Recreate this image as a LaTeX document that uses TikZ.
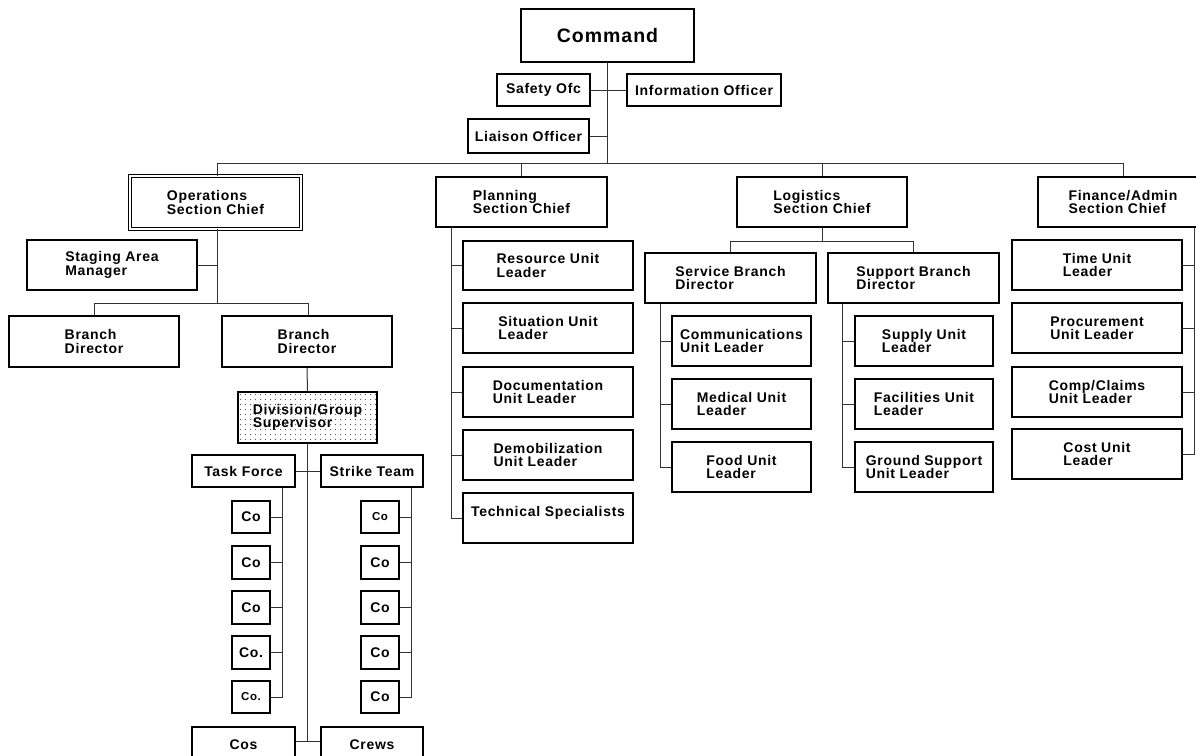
\documentclass[tikz,border=0pt]{standalone}
\usepackage{fontspec}
\setmainfont{Liberation Sans}[LetterSpace=5]
\usetikzlibrary{calc}

\tikzset{
  box/.style={draw=black, line width=1.2pt, fill=white, inner sep=0pt,
    align=left, font=\fontsize{14}{13.5}\selectfont\bfseries},
  bigbox/.style={box, line width=1.7pt, font=\fontsize{19.5}{22}\selectfont\bfseries},
  dblbox/.style={box, line width=0.9pt, double=white, double distance=1.6pt},
  smalltext/.style={font=\fontsize{11.5}{12}\selectfont\bfseries},
  dotted fill/.style={path picture={
    \foreach \i in {0,...,28}{\foreach \j in {0,...,10}{
      \fill[black!65] ($(path picture bounding box.north west)+(\i*5+2.5,\j*5+2.5)$) circle (0.55pt);}}}},
  conn/.style={draw=black!80, line width=1pt}
}

% \orgbox[options]{name}{x1}{y1}{x2}{y2}{text}
\newcommand\orgbox[7][]{%
  \node[box,#1,minimum width={(#5-#3)*1pt},minimum height={(#6-#4)*1pt}]
    (#2) at ({(#3+#5)/2},{(#4+#6)/2}) {#7};}

\begin{document}
\begin{tikzpicture}[x=1pt,y=-1pt]
\useasboundingbox (0,0) rectangle (1196,755);
\fill[white] (0,0) rectangle (1196,755);
\clip (0,0) rectangle (1196,755);

% ---- command staff ----
\orgbox[bigbox]{cmd}{521}{9}{694}{62}{Command}
\orgbox{safety}{497}{74}{590}{106}{Safety Ofc}
\orgbox{info}{627}{74}{781}{106}{Information Officer}
\orgbox{liaison}{468}{119}{589}{153}{Liaison Officer}

% ---- section chiefs ----
\orgbox[dblbox]{ops}{130}{176}{301}{229}{Operations\\Section Chief}
\orgbox{plan}{436}{177}{607}{227}{Planning\\Section Chief}
\orgbox{log}{737}{177}{907}{227}{Logistics\\Section Chief}
\orgbox{fin}{1038}{177}{1208}{227}{Finance/Admin\\Section Chief}

% ---- operations ----
\orgbox{staging}{27}{240}{197}{290}{Staging Area\\Manager}
\orgbox{bdA}{9}{316}{179}{367}{Branch\\Director}
\orgbox{bdB}{222}{316}{392}{367}{Branch\\Director}
\orgbox[dotted fill]{div}{238}{392}{377}{443}{Division/Group\\Supervisor}
\orgbox{tf}{192}{455}{295}{487}{Task Force}
\orgbox{st}{321}{455}{423}{487}{Strike Team}
\orgbox{tfA}{232}{501}{270}{533}{Co}
\orgbox{tfB}{232}{546}{270}{579}{Co}
\orgbox{tfC}{232}{591}{270}{624}{Co}
\orgbox{tfD}{232}{636}{270}{669}{Co.}
\orgbox[smalltext]{tfE}{232}{681}{270}{713}{Co.}
\orgbox[smalltext]{stA}{361}{501}{399}{533}{Co}
\orgbox{stB}{361}{546}{399}{579}{Co}
\orgbox{stC}{361}{591}{399}{624}{Co}
\orgbox{stD}{361}{636}{399}{669}{Co}
\orgbox{stE}{361}{681}{399}{713}{Co}
\orgbox{cos}{192}{727}{295}{763}{Cos}
\orgbox{crews}{321}{727}{423}{763}{Crews}

% ---- planning ----
\orgbox{res}{463}{241}{633}{290}{Resource Unit\\Leader}
\orgbox{sit}{463}{303}{633}{353}{Situation Unit\\Leader}
\orgbox{doc}{463}{367}{633}{417}{Documentation\\Unit Leader}
\orgbox{demob}{463}{430}{633}{480}{Demobilization\\Unit Leader}
\orgbox{tech}{463}{493}{633}{543}{Technical Specialists\\\mbox{}}

% ---- logistics ----
\orgbox{svc}{645}{253}{816}{303}{Service Branch\\Director}
\orgbox{sup}{828}{253}{999}{303}{Support Branch\\Director}
\orgbox{comm}{672}{316}{811}{366}{Communications\\Unit Leader}
\orgbox{med}{672}{379}{811}{429}{Medical Unit\\Leader}
\orgbox{food}{672}{442}{811}{492}{Food Unit\\Leader}
\orgbox{supply}{855}{316}{993}{366}{Supply Unit\\Leader}
\orgbox{fac}{855}{379}{993}{429}{Facilities Unit\\Leader}
\orgbox{ground}{855}{442}{993}{492}{Ground Support\\Unit Leader}

% ---- finance ----
\orgbox{time}{1012}{240}{1182}{290}{Time Unit\\Leader}
\orgbox{proc}{1012}{303}{1182}{353}{Procurement\\Unit Leader}
\orgbox{comp}{1012}{367}{1182}{417}{Comp/Claims\\Unit Leader}
\orgbox{cost}{1012}{429}{1182}{479}{Cost Unit\\Leader}

% ---- junction points ----
\coordinate (busL) at (217,163);
\coordinate (busR) at (1123,163);
\coordinate (opsBus) at (94,303);
\coordinate (opsBusR) at (308,303);
\coordinate (tfSpine) at (282,0);
\coordinate (stSpine) at (411,0);
\coordinate (cosJ) at (308,741);
\coordinate (planSpine) at (451,0);
\coordinate (logBus) at (731,241);
\coordinate (logBusR) at (913,241);
\coordinate (svcSpine) at (660,0);
\coordinate (supSpine) at (842,0);
\coordinate (finSpine) at (1194,0);

% ---- command connectors ----
\draw[conn] (cmd.south) -- (cmd.south |- busL);
\draw[conn] (busL) -- (busR);
\draw[conn] (safety) -- (info);
\draw[conn] (liaison.east) -- (liaison.east -| cmd.south);
\draw[conn] (busL) -- (busL |- ops.north);
\draw[conn] (plan.north) -- (plan.north |- busL);
\draw[conn] (log.north) -- (log.north |- busL);
\draw[conn] (busR) -- (busR |- fin.north);

% ---- operations connectors ----
\draw[conn] (busL |- ops.south) -- (busL |- opsBus);
\draw[conn] (staging.east) -- (staging.east -| busL);
\draw[conn] (opsBus |- bdA.north) -- (opsBus) -- (opsBusR) -- (opsBusR |- bdB.north);
\draw[conn] (bdB.south) -- (div.north);
\draw[conn] (div.south) -- (div.south |- cosJ);
\draw[conn] (tf) -- (st);
\draw[conn] (cos.east |- cosJ) -- (crews.west |- cosJ);
\draw[conn] (tf.south -| tfSpine) -- (tfE.east -| tfSpine) -- (tfE.east);
\foreach \n in {tfA,tfB,tfC,tfD}{\draw[conn] (\n.east) -- (\n.east -| tfSpine);}
\draw[conn] (st.south -| stSpine) -- (stE.east -| stSpine) -- (stE.east);
\foreach \n in {stA,stB,stC,stD}{\draw[conn] (\n.east) -- (\n.east -| stSpine);}

% ---- planning connectors ----
\draw[conn] (plan.south -| planSpine) -- (tech.west -| planSpine) -- (tech.west);
\foreach \n in {res,sit,doc,demob}{\draw[conn] (\n.west) -- (\n.west -| planSpine);}

% ---- logistics connectors ----
\draw[conn] (log.south) -- (log.south |- logBus);
\draw[conn] (svc.north) -- (svc.north |- logBus) -- (sup.north |- logBus) -- (sup.north);
\draw[conn] (svc.south -| svcSpine) -- (food.west -| svcSpine) -- (food.west);
\foreach \n in {comm,med}{\draw[conn] (\n.west) -- (\n.west -| svcSpine);}
\draw[conn] (sup.south -| supSpine) -- (ground.west -| supSpine) -- (ground.west);
\foreach \n in {supply,fac}{\draw[conn] (\n.west) -- (\n.west -| supSpine);}

% ---- finance connectors ----
\draw[conn] (fin.south -| finSpine) -- (cost.east -| finSpine) -- (cost.east);
\foreach \n in {time,proc,comp}{\draw[conn] (\n.east) -- (\n.east -| finSpine);}
\end{tikzpicture}
\end{document}
